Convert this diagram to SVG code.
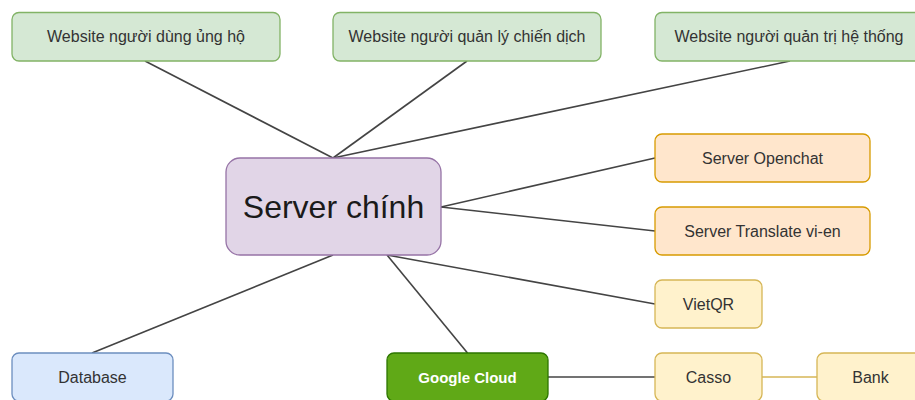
<svg xmlns="http://www.w3.org/2000/svg" width="915" height="400" viewBox="0 0 915 400">
<style>
  .lbl { font-family: "Liberation Sans", Arial, sans-serif; font-size: 16px; fill: #333333; text-anchor: middle; dominant-baseline: central; }
  .big { font-family: "Liberation Sans", Arial, sans-serif; font-size: 32px; fill: #1a1a1a; text-anchor: middle; dominant-baseline: central; }
  .white { font-family: "Liberation Sans", Arial, sans-serif; font-size: 15px; font-weight: bold; fill: #ffffff; text-anchor: middle; dominant-baseline: central; }
  .green { fill: #d5e8d4; stroke: #82b366; stroke-width: 1.3; }
  .purple { fill: #e1d5e7; stroke: #9673a6; stroke-width: 1.3; }
  .orange { fill: #ffe6cc; stroke: #d79b00; stroke-width: 1.3; }
  .yellow { fill: #fff2cc; stroke: #d6b656; stroke-width: 1.3; }
  .blue { fill: #dae8fc; stroke: #6c8ebf; stroke-width: 1.3; }
  .gcloud { fill: #60a917; stroke: #2d7600; stroke-width: 1.3; }
  .edge { stroke: #444444; stroke-width: 1.6; fill: none; }
  .edge-y { stroke: #d6b656; stroke-width: 1.6; fill: none; }
</style>
<rect width="915" height="400" fill="#ffffff"/>
<g id="connectors">
  <line class="edge" x1="145" y1="61" x2="333" y2="158"/>
  <line class="edge" x1="467" y1="61" x2="333" y2="158"/>
  <line class="edge" x1="790" y1="61" x2="333" y2="158"/>
  <line class="edge" x1="441" y1="207" x2="655" y2="158"/>
  <line class="edge" x1="441" y1="207" x2="655" y2="231"/>
  <line class="edge" x1="387" y1="255" x2="655" y2="304"/>
  <line class="edge" x1="387" y1="255" x2="467.5" y2="353"/>
  <line class="edge" x1="333" y1="255" x2="92" y2="353"/>
  <line class="edge" x1="548" y1="377" x2="655" y2="377"/>
  <line class="edge-y" x1="762" y1="377" x2="817" y2="377"/>
</g>
<g id="web-donor">
  <rect class="green" x="12" y="12.5" width="268" height="48.5" rx="7"/>
  <text class="lbl" x="146" y="36.5">Website người dùng ủng hộ</text>
</g>
<g id="web-campaign">
  <rect class="green" x="333" y="12.5" width="268" height="48.5" rx="7"/>
  <text class="lbl" x="467" y="36.5">Website người quản lý chiến dịch</text>
</g>
<g id="web-admin">
  <rect class="green" x="655" y="12.5" width="268" height="48.5" rx="7"/>
  <text class="lbl" x="789" y="36.5">Website người quản trị hệ thống</text>
</g>
<g id="server-main">
  <rect class="purple" x="226" y="158" width="215" height="97" rx="14"/>
  <text class="big" x="333.5" y="206.5">Server chính</text>
</g>
<g id="server-openchat">
  <rect class="orange" x="655" y="134" width="215" height="48" rx="7"/>
  <text class="lbl" x="762.5" y="158">Server Openchat</text>
</g>
<g id="server-translate">
  <rect class="orange" x="655" y="207" width="215" height="48" rx="7"/>
  <text class="lbl" x="762.5" y="231">Server Translate vi-en</text>
</g>
<g id="vietqr">
  <rect class="yellow" x="655" y="280" width="107" height="48" rx="7"/>
  <text class="lbl" x="708.5" y="304">VietQR</text>
</g>
<g id="casso">
  <rect class="yellow" x="655" y="353" width="107" height="48" rx="7"/>
  <text class="lbl" x="708.5" y="377">Casso</text>
</g>
<g id="bank">
  <rect class="yellow" x="817" y="353" width="107" height="48" rx="7"/>
  <text class="lbl" x="870.5" y="377">Bank</text>
</g>
<g id="google-cloud">
  <rect class="gcloud" x="387" y="353" width="161" height="48" rx="7"/>
  <text class="white" x="467.5" y="377">Google Cloud</text>
</g>
<g id="database">
  <rect class="blue" x="12" y="353" width="161" height="48" rx="7"/>
  <text class="lbl" x="92.5" y="377">Database</text>
</g>
</svg>
